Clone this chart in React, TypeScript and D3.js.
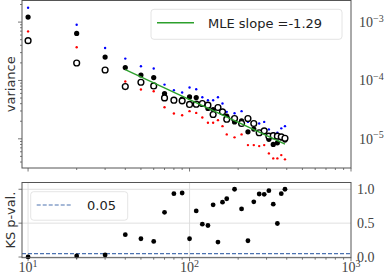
import * as d3 from 'd3';
import React, { FC, useEffect, useRef } from 'react';

// sample sizes
const nValues = [
  10, 20, 30, 40, 50, 60, 70, 80, 90, 100, 110, 120, 130, 140, 150, 160, 170,
  190, 210, 230, 250, 270, 290, 310, 330, 350, 370, 390
];

// black filled dots
const meanVar = [
  1.22e-3, 6.4e-4, 2.52e-4, 1.66e-4, 1.24e-4, 1.12e-4, 5.97e-5, 4.6e-5, 4.78e-5,
  5.22e-5, 5.1e-5, 4.07e-5, 3.31e-5, 3.18e-5, 3.48e-5, 2.86e-5, 2.44e-5,
  1.95e-5, 2.03e-5, 1.32e-5, 1.47e-5, 1.25e-5, 1.36e-5, 9.8e-6, 8.0e-6, 8.55e-6,
  1.03e-5, 9.5e-6
];

// open circles
const sampleVar = [
  4.81e-4, 1.99e-4, 1.51e-4, 7.87e-5, 9.31e-5, 8.05e-5, 5.02e-5, 4.59e-5, 4.47e-5,
  3.88e-5, 3.92e-5, 4.03e-5, 3.77e-5, 2.61e-5, 3.44e-5, 2.9e-5, 2.17e-5,
  2.23e-5, 1.83e-5, 2.23e-5, 1.83e-5, 1.27e-5, 1.37e-5, 1.11e-5, 1.13e-5, 1.11e-5,
  1.08e-5, 1.02e-5
];

// blue small dots
const upperVar = [
  1.76e-3, 9.03e-4, 3.6e-4, 2.37e-4, 1.75e-4, 1.6e-4, 8.5e-5, 6.8e-5, 6.2e-5,
  7.56e-5, 7.08e-5, 5.17e-5, 4.59e-5, 4.59e-5, 5.17e-5, 4.03e-5, 2.9e-5,
  2.75e-5, 2.98e-5, 1.95e-5, 1.83e-5, 1.83e-5, 1.95e-5, 1.45e-5, 1.25e-5, 1.27e-5,
  1.51e-5, 1.65e-5
];

// red small dots (none drawn at n=30)
const lowerVar = [
  6.93e-4, 3.7e-4, null, 9.57e-5, 6.98e-5, 6.53e-5, 3.48e-5, 2.72e-5, 2.54e-5,
  2.98e-5, 2.78e-5, 2.32e-5, 1.88e-5, 1.88e-5, 2.09e-5, 1.65e-5, 1.19e-5,
  1.06e-5, 1.19e-5, 7.8e-6, 7.8e-6, 7.5e-6, 7.8e-6, 5.62e-6, 4.62e-6, 4.62e-6,
  5.26e-6, 4.45e-6
];

const ksPval = [
  0.002, 0.015, 0.03, 0.33, 0.27, 0.23, 0.66, 0.935, 0.945, 0.27, 0.68, 0.485,
  0.465, 0.77, 0.22, 0.81, 0.86, 1.0, 0.71, 0.24, 0.815, 0.93, 0.925, 0.98, 0.78,
  0.495, 0.935, 1.0
];

const mleSlope = -1.29;
const mleLogIntercept = -1.747;
const mleRange = [40, 390];
const pThreshold = 0.05;

const xMajor = [10, 100, 1000];
const yTopMajor = [-3, -4, -5];
const yBotMajor = [0, 0.5, 1.0];

const W = 390;
const H = 279;
const spine = '#555';
const tickCol = '#555';
const labelCol = '#444';

const App: FC = (): JSX.Element => {
  const ref = useRef<SVGSVGElement>(null);

  const draw = () => {
    const svg = d3.select(ref.current);
    svg.selectAll('*').remove();

    const x = d3.scaleLog().domain([9.17, 1000]).range([22, 351]);
    const yTop = d3
      .scaleLog()
      .domain([Math.pow(10, -2.63), Math.pow(10, -5.5)])
      .range([0.5, 168]);
    const yBot = d3.scaleLinear().domain([-0.01, 1.1]).range([257.7, 182.5]);

    const [x0, x1] = x.range();
    const [tTop, tBot] = yTop.range();
    const [bBot, bTop] = yBot.range();

    // ---------- bottom panel grid ----------
    const grid = svg.append('g');
    xMajor
      .filter((v) => v < 1000)
      .forEach((v) => {
        grid
          .append('line')
          .attr('x1', x(v))
          .attr('x2', x(v))
          .attr('y1', bTop)
          .attr('y2', bBot)
          .attr('stroke', '#dcdcdc')
          .attr('stroke-width', 0.9);
      });
    yBotMajor.forEach((v) => {
      grid
        .append('line')
        .attr('x1', x0)
        .attr('x2', x1)
        .attr('y1', yBot(v))
        .attr('y2', yBot(v))
        .attr('stroke', '#dcdcdc')
        .attr('stroke-width', 0.9);
    });

    // ---------- ticks ----------
    const ticks = svg.append('g').attr('stroke', tickCol).attr('stroke-width', 0.8);
    const xTicks = x.ticks().filter((v) => v >= x.domain()[0] && v <= 1000);
    [tBot, bBot].forEach((yb) => {
      xTicks.forEach((v) => {
        const major = xMajor.includes(v);
        ticks
          .append('line')
          .attr('x1', x(v))
          .attr('x2', x(v))
          .attr('y1', yb)
          .attr('y2', yb + (major ? 3.5 : 2));
      });
    });
    yTop.ticks().forEach((v) => {
      const major = Math.abs(Math.log10(v) - Math.round(Math.log10(v))) < 1e-6;
      ticks
        .append('line')
        .attr('x1', x0)
        .attr('x2', x0 - (major ? 4 : 2))
        .attr('y1', yTop(v))
        .attr('y2', yTop(v));
    });
    yBotMajor.forEach((v) => {
      ticks
        .append('line')
        .attr('x1', x0)
        .attr('x2', x0 - 3.5)
        .attr('y1', yBot(v))
        .attr('y2', yBot(v));
    });

    // ---------- top panel marks ----------
    const top = svg.append('g');
    top
      .selectAll('.up')
      .data(nValues)
      .enter()
      .append('circle')
      .attr('cx', (d) => x(d))
      .attr('cy', (d, i) => yTop(upperVar[i]))
      .attr('r', 1.2)
      .attr('fill', '#0000ff');
    top
      .selectAll('.lo')
      .data(nValues.filter((d, i) => lowerVar[i] !== null))
      .enter()
      .append('circle')
      .attr('cx', (d) => x(d))
      .attr('cy', (d) => yTop(lowerVar[nValues.indexOf(d)] as number))
      .attr('r', 1.2)
      .attr('fill', '#ff0000');
    top
      .selectAll('.mean')
      .data(nValues)
      .enter()
      .append('circle')
      .attr('cx', (d) => x(d))
      .attr('cy', (d, i) => yTop(meanVar[i]))
      .attr('r', 2.6)
      .attr('fill', '#000');
    top
      .selectAll('.samp')
      .data(nValues)
      .enter()
      .append('circle')
      .attr('cx', (d) => x(d))
      .attr('cy', (d, i) => yTop(sampleVar[i]))
      .attr('r', 2.9)
      .attr('fill', '#fff')
      .attr('stroke', '#000')
      .attr('stroke-width', 1.4);

    const mle = (n: number) => Math.pow(10, mleLogIntercept + mleSlope * Math.log10(n));
    const line = d3
      .line<number>()
      .x((d) => x(d))
      .y((d) => yTop(mle(d)));
    top
      .append('path')
      .attr('d', line(mleRange))
      .attr('fill', 'none')
      .attr('stroke', '#2ca02c')
      .attr('stroke-width', 1.4);

    // ---------- bottom panel marks ----------
    const bot = svg.append('g');
    bot
      .append('line')
      .attr('x1', x0)
      .attr('x2', x1)
      .attr('y1', yBot(pThreshold))
      .attr('y2', yBot(pThreshold))
      .attr('stroke', '#4c72b0')
      .attr('stroke-width', 1.2)
      .attr('stroke-dasharray', '4,2');
    bot
      .selectAll('.ks')
      .data(nValues)
      .enter()
      .append('circle')
      .attr('cx', (d) => x(d))
      .attr('cy', (d, i) => yBot(ksPval[i]))
      .attr('r', 2.4)
      .attr('fill', '#000');

    // ---------- spines ----------
    [
      [tTop, tBot],
      [bTop, bBot]
    ].forEach(([a, b]) => {
      svg
        .append('rect')
        .attr('x', x0)
        .attr('y', a)
        .attr('width', x1 - x0)
        .attr('height', b - a)
        .attr('fill', 'none')
        .attr('stroke', spine)
        .attr('stroke-width', 1);
    });

    // ---------- tick labels ----------
    const serif = '"Liberation Serif", "DejaVu Serif", serif';
    xMajor.forEach((v) => {
      const t = svg
        .append('text')
        .attr('x', x(v))
        .attr('y', 272)
        .attr('text-anchor', 'middle')
        .attr('font-family', serif)
        .attr('font-size', 14)
        .attr('fill', labelCol);
      t.append('tspan').text('10');
      t.append('tspan')
        .attr('dy', -5.5)
        .attr('font-size', 10)
        .text(String(Math.round(Math.log10(v))));
    });
    yTopMajor.forEach((e) => {
      const t = svg
        .append('text')
        .attr('x', 359)
        .attr('y', yTop(Math.pow(10, e)) + 5)
        .attr('font-family', serif)
        .attr('font-size', 14)
        .attr('fill', labelCol);
      t.append('tspan').text('10');
      t.append('tspan')
        .attr('dy', -5.5)
        .attr('font-size', 10)
        .text(`\u2212${-e}`);
    });
    yBotMajor.forEach((v) => {
      svg
        .append('text')
        .attr('x', 357)
        .attr('y', yBot(v) + 5)
        .attr('font-family', serif)
        .attr('font-size', 14)
        .attr('fill', labelCol)
        .text(v.toFixed(1));
    });

    // ---------- axis labels ----------
    const sans = '"DejaVu Sans", sans-serif';
    svg
      .append('text')
      .attr('transform', `translate(15, ${(tTop + tBot) / 2}) rotate(-90)`)
      .attr('text-anchor', 'middle')
      .attr('font-family', sans)
      .attr('font-size', 13)
      .attr('fill', '#333')
      .text('variance');
    svg
      .append('text')
      .attr('transform', `translate(15, ${(bTop + bBot) / 2}) rotate(-90)`)
      .attr('text-anchor', 'middle')
      .attr('font-family', sans)
      .attr('font-size', 13)
      .attr('fill', '#333')
      .text('KS p-val.');

    // ---------- legends ----------
    const legTop = svg.append('g');
    legTop
      .append('rect')
      .attr('x', 151)
      .attr('y', 9.3)
      .attr('width', 191)
      .attr('height', 30)
      .attr('rx', 3)
      .attr('fill', '#fff')
      .attr('fill-opacity', 0.8)
      .attr('stroke', '#ddd')
      .attr('stroke-width', 0.8);
    legTop
      .append('line')
      .attr('x1', 157)
      .attr('x2', 194)
      .attr('y1', 22.7)
      .attr('y2', 22.7)
      .attr('stroke', '#2ca02c')
      .attr('stroke-width', 1.4);
    legTop
      .append('text')
      .attr('x', 208)
      .attr('y', 27.5)
      .attr('font-family', sans)
      .attr('font-size', 13)
      .attr('fill', '#222')
      .text(`MLE slope =${mleSlope}`);

    const legBot = svg.append('g');
    legBot
      .append('rect')
      .attr('x', 30.7)
      .attr('y', 191.7)
      .attr('width', 97)
      .attr('height', 28.5)
      .attr('rx', 3)
      .attr('fill', '#fff')
      .attr('fill-opacity', 0.8)
      .attr('stroke', '#ddd')
      .attr('stroke-width', 0.8);
    legBot
      .append('line')
      .attr('x1', 36.7)
      .attr('x2', 72.7)
      .attr('y1', 205)
      .attr('y2', 205)
      .attr('stroke', '#4c72b0')
      .attr('stroke-width', 1.2)
      .attr('stroke-dasharray', '4,2');
    legBot
      .append('text')
      .attr('x', 87)
      .attr('y', 210)
      .attr('font-family', sans)
      .attr('font-size', 13)
      .attr('fill', '#222')
      .text(String(pThreshold));
  };

  useEffect(() => {
    draw();
  }, []);

  return (
    <svg
      ref={ref}
      width={W}
      height={H}
      style={{ position: 'absolute', left: 0, top: 0, background: '#fff' }}
    />
  );
};

export default App;
